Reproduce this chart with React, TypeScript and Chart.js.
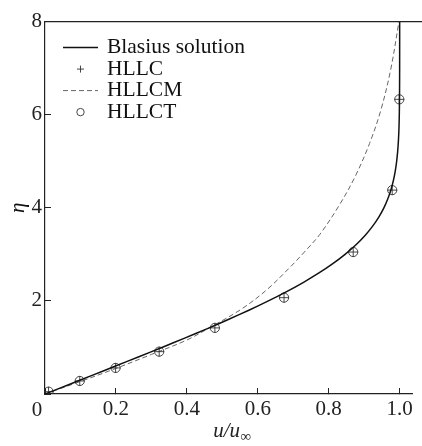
import React, { useEffect, useRef } from "react";
import { Chart, registerables } from "chart.js";

Chart.register(...registerables);

// ---- Data ----
const seriesLabels = ["Blasius solution", "HLLC", "HLLCM", "HLLCT"];

// Blasius solution (eta, f')
const blasiusEta = [0, 0.2, 0.4, 0.6, 0.8, 1.0, 1.2, 1.4, 1.6, 1.8, 2.0, 2.2, 2.4, 2.6, 2.8, 3.0, 3.2, 3.4, 3.6, 3.8, 4.0, 4.2, 4.4, 4.6, 4.8, 5.0, 5.2, 5.4, 5.6, 5.8, 6.0, 6.4, 6.8, 7.2, 7.6, 8.0];
const blasiusU = [0, 0.06641, 0.13277, 0.19894, 0.26471, 0.32979, 0.39378, 0.45627, 0.51676, 0.57477, 0.62977, 0.68132, 0.72899, 0.77246, 0.81152, 0.84605, 0.87609, 0.90177, 0.92333, 0.94112, 0.95552, 0.96696, 0.97587, 0.98269, 0.98779, 0.99155, 0.99425, 0.99616, 0.99748, 0.99838, 0.99898, 0.99961, 0.99987, 0.99996, 0.99999, 1.0];

// HLLCM (dashed)
const hllcmU = [0, 0.1, 0.2, 0.3, 0.4, 0.47, 0.555, 0.627, 0.693, 0.729, 0.775, 0.83, 0.875, 0.915, 0.947, 0.975, 0.998];
const hllcmEta = [0, 0.27, 0.55, 0.85, 1.16, 1.45, 1.83, 2.25, 2.74, 3.03, 3.43, 4.06, 4.68, 5.38, 6.1, 6.98, 8.0];

// HLLC (+) and HLLCT (o) markers
const hllcU = [0.01, 0.098, 0.199, 0.322, 0.479, 0.674, 0.869, 0.979, 0.999];
const hllcEta = [0.05, 0.28, 0.56, 0.91, 1.42, 2.07, 3.05, 4.38, 6.33];
const hllctU = [0.01, 0.098, 0.199, 0.322, 0.479, 0.674, 0.869, 0.979, 0.999];
const hllctEta = [0.05, 0.28, 0.56, 0.91, 1.42, 2.07, 3.05, 4.38, 6.33];

// Ticks
const xTicks = [0, 0.2, 0.4, 0.6, 0.8, 1.0];
const xTickLabels = ["0", "0.2", "0.4", "0.6", "0.8", "1.0"];
const yTicks = [0, 2, 4, 6, 8];
const yTickLabels = ["", "2", "4", "6", "8"];

const FAMILY = "'Liberation Serif', 'Times New Roman', serif";
const AXIS_COLOR = "#222";
const MARK_COLOR = "#333";

const pts = (xs: number[], ys: number[]) => xs.map((x, i) => ({ x, y: ys[i] }));

const framePlugin = {
  id: "frameAndExtras",
  afterDraw(chart: any) {
    const { ctx, chartArea } = chart;
    const xs = chart.scales.x;
    ctx.save();
    // top frame line
    ctx.strokeStyle = AXIS_COLOR;
    ctx.lineWidth = 1.2;
    ctx.beginPath();
    ctx.moveTo(chartArea.left, chartArea.top);
    ctx.lineTo(chart.width, chartArea.top);
    ctx.stroke();

    // "0" origin label
    ctx.fillStyle = AXIS_COLOR;
    ctx.font = `21px ${FAMILY}`;
    ctx.textAlign = "center";
    ctx.textBaseline = "middle";
    ctx.fillText(xTickLabels[0], xs.getPixelForValue(xTicks[0]) - 8, chartArea.bottom + 16);

    // x-axis title u/u_inf
    const cx = (chartArea.left + chartArea.right) / 2 + 3;
    ctx.textBaseline = "alphabetic";
    ctx.textAlign = "left";
    ctx.font = `italic 21px ${FAMILY}`;
    const main = "u/u";
    const w1 = ctx.measureText(main).width;
    ctx.font = `15px ${FAMILY}`;
    const sub = "\u221E";
    const w2 = ctx.measureText(sub).width;
    const sx = cx - (w1 + w2) / 2;
    ctx.font = `italic 21px ${FAMILY}`;
    ctx.fillText(main, sx, chartArea.bottom + 43);
    ctx.font = `15px ${FAMILY}`;
    ctx.fillText(sub, sx + w1 + 0.5, chartArea.bottom + 47);

    // legend inside chart area
    const x0 = chartArea.left + 18;
    const x1 = chartArea.left + 53;
    const tx = chartArea.left + 62;
    chart.data.datasets.forEach((ds: any, i: number) => {
      const y = chartArea.top + 26 + i * 21.5;
      ctx.save();
      if (ds.showLine === false) {
        const cxp = (x0 + x1) / 2;
        ctx.strokeStyle = ds.pointBorderColor;
        ctx.lineWidth = 0.9;
        ctx.beginPath();
        if (ds.pointStyle === "cross") {
          ctx.moveTo(cxp - 3.5, y);
          ctx.lineTo(cxp + 3.5, y);
          ctx.moveTo(cxp, y - 3.5);
          ctx.lineTo(cxp, y + 3.5);
        } else {
          ctx.arc(cxp, y, 3.7, 0, Math.PI * 2);
        }
        ctx.stroke();
      } else {
        ctx.strokeStyle = ds.borderColor;
        ctx.lineWidth = ds.borderWidth;
        ctx.setLineDash(ds.borderDash || []);
        ctx.beginPath();
        ctx.moveTo(x0, y);
        ctx.lineTo(x1, y);
        ctx.stroke();
      }
      ctx.restore();
      ctx.fillStyle = "#111";
      ctx.font = `21.5px ${FAMILY}`;
      ctx.textAlign = "left";
      ctx.textBaseline = "middle";
      ctx.fillText(ds.label, tx, y);
    });
    ctx.restore();
  },
};

export default function App() {
  const ref = useRef<HTMLCanvasElement>(null);

  useEffect(() => {
    const canvas = ref.current;
    if (!canvas) return;
    const tickFont = { family: FAMILY, size: 21 };
    const chart = new Chart(canvas, {
      type: "line",
      data: {
        datasets: [
          {
            label: seriesLabels[0],
            data: pts(blasiusU, blasiusEta),
            borderColor: "#111",
            borderWidth: 1.5,
            pointRadius: 0,
            tension: 0.2,
            fill: false,
          },
          {
            label: seriesLabels[1],
            data: pts(hllcU, hllcEta),
            showLine: false,
            pointStyle: "cross",
            pointRadius: 5,
            pointBorderColor: MARK_COLOR,
            pointBorderWidth: 0.9,
            borderColor: MARK_COLOR,
          },
          {
            label: seriesLabels[2],
            data: pts(hllcmU, hllcmEta),
            borderColor: "#666",
            borderWidth: 1,
            borderDash: [5, 3],
            pointRadius: 0,
            tension: 0.35,
            fill: false,
          },
          {
            label: seriesLabels[3],
            data: pts(hllctU, hllctEta),
            showLine: false,
            pointStyle: "circle",
            pointRadius: 4.6,
            pointBorderColor: MARK_COLOR,
            pointBackgroundColor: "rgba(0,0,0,0)",
            pointBorderWidth: 0.9,
            borderColor: MARK_COLOR,
          },
        ],
      } as any,
      options: {
        responsive: false,
        maintainAspectRatio: false,
        animation: false,
        devicePixelRatio: 1,
        layout: { padding: { top: 14, right: 0, left: 0, bottom: 0 } },
        plugins: {
          legend: { display: false },
          tooltip: { enabled: false },
        },
        scales: {
          x: {
            type: "linear",
            min: 0,
            max: 1.037,
            afterFit: (s: any) => {
              s.height = 52;
            },
            afterBuildTicks: (s: any) => {
              s.ticks = xTicks.map((v) => ({ value: v }));
            },
            ticks: {
              callback: (_v: any, i: number) => (i === 0 ? "" : xTickLabels[i]),
              font: tickFont,
              color: AXIS_COLOR,
              padding: 9,
              maxRotation: 0,
              autoSkip: false,
            },
            grid: {
              drawOnChartArea: false,
              drawTicks: true,
              tickLength: -6,
              color: AXIS_COLOR,
              lineWidth: 1,
            },
            border: { color: AXIS_COLOR, width: 1.2 },
          },
          y: {
            type: "linear",
            min: 0,
            max: 8,
            afterFit: (s: any) => {
              s.width = 45;
            },
            afterBuildTicks: (s: any) => {
              s.ticks = yTicks.map((v) => ({ value: v }));
            },
            ticks: {
              callback: (_v: any, i: number) => yTickLabels[i],
              font: tickFont,
              color: AXIS_COLOR,
              padding: 9,
              autoSkip: false,
            },
            grid: {
              drawOnChartArea: false,
              drawTicks: true,
              tickLength: -6,
              color: AXIS_COLOR,
              lineWidth: 1,
            },
            border: { color: AXIS_COLOR, width: 1.2 },
            title: {
              display: true,
              text: "\u03B7",
              color: "#111",
              font: { family: FAMILY, size: 21, style: "italic" },
              padding: { top: 6, bottom: 0 },
            },
          },
        },
      } as any,
      plugins: [framePlugin],
    });
    return () => chart.destroy();
  }, []);

  return (
    <div style={{ position: "fixed", left: 0, top: 0, width: 422, height: 446, background: "#fff" }}>
      <canvas ref={ref} width={422} height={446} style={{ display: "block", width: 422, height: 446 }} />
    </div>
  );
}
